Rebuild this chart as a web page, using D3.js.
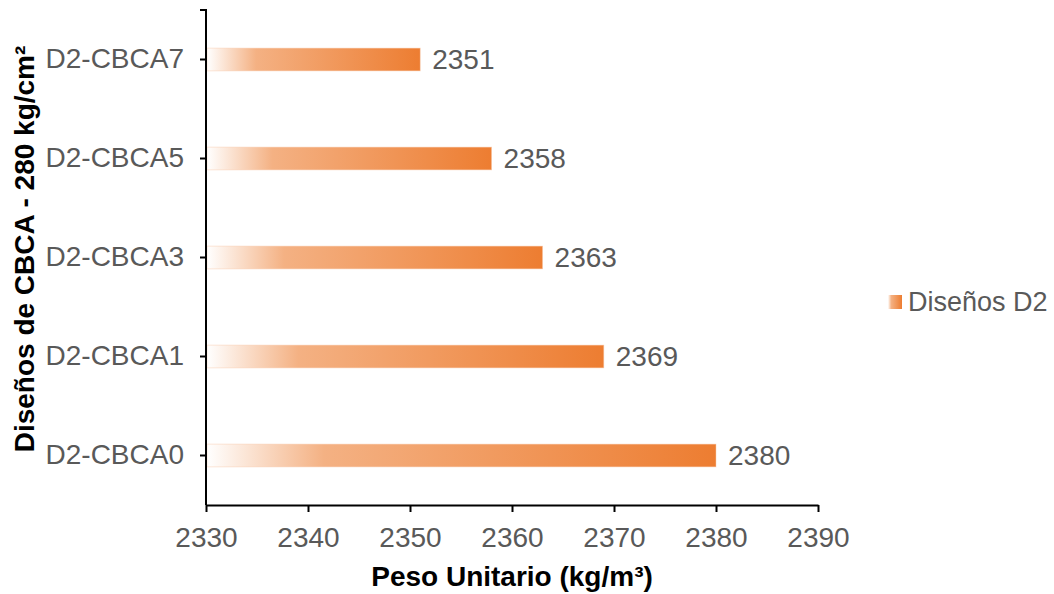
<!DOCTYPE html>
<html><head><meta charset="utf-8">
<script src="https://cdn.jsdelivr.net/npm/d3@7"></script>
<style>body{margin:0;background:#fff;} svg{display:block;font-family:"Liberation Sans",Arial,sans-serif;}</style>
</head><body>
<script>
const categories = ["D2-CBCA7","D2-CBCA5","D2-CBCA3","D2-CBCA1","D2-CBCA0"];
const values = [2351, 2358, 2363, 2369, 2380];
const xTicks = [2330, 2340, 2350, 2360, 2370, 2380, 2390];
const seriesName = "Diseños D2";
const xTitle = "Peso Unitario (kg/m³)";
const yTitle = "Diseños de CBCA - 280 kg/cm²";

const W = 1054, H = 594;
const svg = d3.select("body").append("svg").attr("width", W).attr("height", H);
const defs = svg.append("defs");
const grad = defs.append("linearGradient").attr("id","barGrad").attr("x1","0").attr("x2","1").attr("y1","0").attr("y2","0");
grad.append("stop").attr("offset","0%").attr("stop-color","#FFFFFF");
grad.append("stop").attr("offset","23%").attr("stop-color","#F4B183");
grad.append("stop").attr("offset","100%").attr("stop-color","#ED7D31");

const mLeft = 206, mRight = 818, mTop = 10, mBottom = 505;
const x = d3.scaleLinear().domain([2330, 2390]).range([mLeft, mRight]);
const y = d3.scaleBand().domain(categories).range([mTop, mBottom]).paddingInner(0.77).paddingOuter(0.385);

const gray = "#595959";
const fs = 28;

// bars
svg.append("g").selectAll("rect").data(categories).join("rect")
  .attr("x", x(2330) + 1)
  .attr("y", d => y(d))
  .attr("width", (d,i) => x(values[i]) - x(2330) - 1)
  .attr("height", y.bandwidth())
  .attr("fill", "url(#barGrad)")
  .attr("stroke", "#F8CBAD").attr("stroke-opacity", 0.6).attr("stroke-width", 0.8);

// value labels
svg.append("g").selectAll("text").data(categories).join("text")
  .attr("x", (d,i) => x(values[i]) + 12)
  .attr("y", d => y(d) + y.bandwidth()/2)
  .attr("dy", "0.35em")
  .attr("font-size", fs).attr("fill", gray)
  .text((d,i) => values[i]);

// x axis
const xAxis = d3.axisBottom(x).tickValues(xTicks).tickSize(7).tickSizeOuter(0).tickPadding(15).tickFormat(d3.format("d"));
const gx = svg.append("g").attr("transform", `translate(0,${mBottom})`).call(xAxis);
gx.select(".domain").attr("stroke", "#000").attr("stroke-width", 2);
gx.selectAll(".tick line").attr("stroke", "#000").attr("stroke-width", 2);
gx.selectAll(".tick text").attr("font-size", fs).attr("fill", gray).attr("font-family", "Liberation Sans, Arial, sans-serif");

// y axis
const yAxis = d3.axisLeft(y).tickSize(6).tickSizeOuter(0).tickPadding(16);
const gy = svg.append("g").attr("transform", `translate(${mLeft},0)`).call(yAxis);
gy.select(".domain").attr("stroke", "#000").attr("stroke-width", 2).attr("d", `M-6,${mTop}H0V${mBottom}`);
gy.selectAll(".tick line").attr("stroke", "#000").attr("stroke-width", 2);
gy.selectAll(".tick text").attr("font-size", fs).attr("fill", gray).attr("font-family", "Liberation Sans, Arial, sans-serif");

// titles
svg.append("text").attr("x", (mLeft+mRight)/2).attr("y", 586)
  .attr("text-anchor","middle").attr("font-size", fs).attr("font-weight","bold").attr("fill","#000")
  .text(xTitle);
svg.append("text").attr("transform", "translate(34,249) rotate(-90)")
  .attr("text-anchor","middle").attr("font-size", fs).attr("font-weight","bold").attr("fill","#000")
  .text(yTitle);

// legend
const lg = svg.append("g");
lg.append("rect").attr("x", 888).attr("y", 295).attr("width", 14).attr("height", 14).attr("fill", "url(#barGrad)");
lg.append("text").attr("x", 908).attr("y", 302).attr("dy","0.35em").attr("font-size", 27).attr("fill", gray).text(seriesName);
</script>
</body></html>
